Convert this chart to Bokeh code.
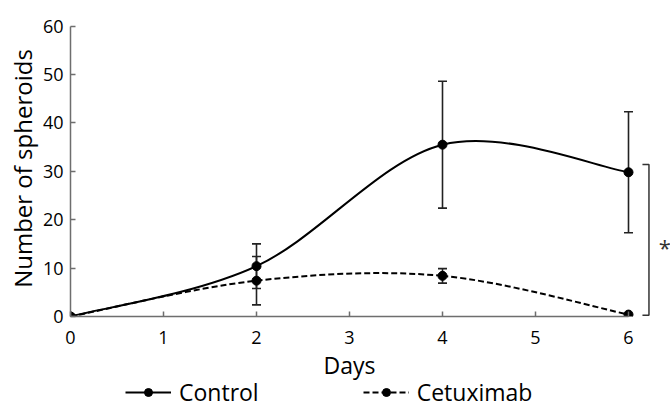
import numpy as np
from bokeh.plotting import figure
from bokeh.layouts import column
from bokeh.models import (Range1d, Whisker, TeeHead, ColumnDataSource, Legend,
                          LegendItem, FixedTicker, Label)
from bokeh.core.properties import value
from bokeh.embed import file_html
from bokeh.resources import INLINE

# ---------------- data ----------------
days = [0, 2, 4, 6]
control = [0.0, 10.4, 35.5, 29.8]
control_err = [0.0, 4.6, 13.1, 12.5]
cetuximab = [0.0, 7.4, 8.4, 0.4]
cetuximab_err = [0.0, 5.0, 1.5, 0.0]
series_names = ["Control", "Cetuximab"]
x_ticks = [0, 1, 2, 3, 4, 5, 6]
y_ticks = [0, 10, 20, 30, 40, 50, 60]
x_label = "Days"
y_label = "Number of spheroids"
sig_label = "*"

FONT = "Open Sans"


def smooth_segments(xs, ys):
    """Catmull-Rom style cubic Bezier control points (spreadsheet 'smoothed line')."""
    P = np.column_stack([xs, ys]).astype(float)
    ext = np.vstack([P[0], P, P[-1]])
    out = dict(x0=[], y0=[], x1=[], y1=[], cx0=[], cy0=[], cx1=[], cy1=[])
    for i in range(len(P) - 1):
        p0, p1, p2, p3 = ext[i], ext[i + 1], ext[i + 2], ext[i + 3]
        c0 = p1 + (p2 - p0) / 6.0
        c1 = p2 - (p3 - p1) / 6.0
        out["x0"].append(float(p1[0])); out["y0"].append(float(p1[1]))
        out["x1"].append(float(p2[0])); out["y1"].append(float(p2[1]))
        out["cx0"].append(float(c0[0])); out["cy0"].append(float(c0[1]))
        out["cx1"].append(float(c1[0])); out["cy1"].append(float(c1[1]))
    return ColumnDataSource(out)


x_range = Range1d(0, 6.4516)
p = figure(width=670, height=355, output_backend="svg", toolbar_location=None,
           x_range=x_range, y_range=Range1d(0, 61.16),
           min_border_left=70, min_border_right=0, min_border_top=20,
           min_border_bottom=39)
p.outline_line_color = None
p.xgrid.visible = False
p.ygrid.visible = False

axis_color = "#6e6e6e"
for ax in (p.xaxis[0], p.yaxis[0]):
    ax.axis_line_color = axis_color
    ax.axis_line_width = 1.5
    ax.major_tick_line_color = axis_color
    ax.major_tick_line_width = 1.5
    ax.major_tick_in = 5
    ax.major_tick_out = 0
    ax.minor_tick_line_color = None
    ax.major_label_text_font = FONT
    ax.major_label_text_font_size = "18px"
    ax.major_label_text_color = "black"
    ax.axis_label_text_font = FONT
    ax.axis_label_text_font_size = "24px"
    ax.axis_label_text_font_style = "normal"
    ax.axis_label_text_color = "black"

p.xaxis[0].ticker = FixedTicker(ticks=x_ticks)
p.yaxis[0].ticker = FixedTicker(ticks=y_ticks)
p.xaxis[0].bounds = (x_ticks[0], x_ticks[-1])
p.yaxis[0].bounds = (y_ticks[0], y_ticks[-1])
p.yaxis[0].axis_label = y_label
p.xaxis[0].major_label_standoff = 14
p.yaxis[0].major_label_standoff = 7
p.yaxis[0].axis_label_standoff = 1

# ---------------- series ----------------
styles = [("solid", control, control_err), ("6 3", cetuximab, cetuximab_err)]
for dash, vals, errs in styles:
    seg = smooth_segments(days, vals)
    p.bezier(x0="x0", y0="y0", x1="x1", y1="y1", cx0="cx0", cy0="cy0",
             cx1="cx1", cy1="cy1", source=seg, line_color="black",
             line_width=2, line_dash=dash)
    idx = [i for i, e in enumerate(errs) if e > 0]
    esrc = ColumnDataSource(dict(
        x=[days[i] for i in idx],
        upper=[vals[i] + errs[i] for i in idx],
        lower=[vals[i] - errs[i] for i in idx]))
    p.add_layout(Whisker(source=esrc, base="x", upper="upper", lower="lower",
                         line_color="#222222", line_width=1.6,
                         upper_head=TeeHead(size=9, line_color="#222222", line_width=1.6),
                         lower_head=TeeHead(size=9, line_color="#222222", line_width=1.6)))
    p.scatter(days, vals, size=9, fill_color="black", line_color="black")

# ---------------- significance bracket ----------------
br_x = days[-1] + 0.22
br_tick = days[-1] + 0.15
br_top = control[-1] + 1.6
br_bot = 0.25
p.line([br_tick, br_x, br_x, br_tick], [br_top, br_top, br_bot, br_bot],
       line_color="#333333", line_width=1.5)
p.text([days[-1] + 0.39], [(br_top + br_bot) / 2 - 1.5], text=[sig_label],
       text_font=value(FONT), text_font_size="22px", text_align="center",
       text_baseline="middle", text_color="#333333")

# ---------------- x title + legend strip ----------------
lg = figure(width=670, height=53, output_backend="svg", toolbar_location=None,
            x_axis_location=None, y_axis_location=None, min_border=0,
            x_range=x_range, y_range=Range1d(0, 53))
lg.outline_line_color = None
lg.xgrid.visible = False
lg.ygrid.visible = False
lg.add_layout(Label(x=(x_ticks[0] + x_ticks[-1]) / 2, y=44, text=x_label,
                    text_font=FONT, text_font_size="23px", text_align="center",
                    text_baseline="alphabetic", text_color="black"))
items = []
for name, (dash, vals, errs) in zip(series_names, styles):
    l = lg.line([days[0]], [vals[0]], line_color="black", line_width=2,
                line_dash=dash, visible=False)
    s = lg.scatter([days[0]], [vals[0]], size=9, fill_color="black",
                   line_color="black", visible=False)
    items.append(LegendItem(label=name, renderers=[l, s]))
legend = Legend(items=items, orientation="horizontal", location=(55, 0),
                glyph_width=46, glyph_height=20, label_standoff=8, spacing=104,
                label_text_font=FONT, label_text_font_size="23px",
                label_text_color="black", inactive_fill_alpha=0,
                border_line_color=None, background_fill_alpha=0,
                padding=0, margin=0)
lg.add_layout(legend, "center")

layout = column(p, lg, spacing=0)
open("out.html", "w").write(file_html(layout, INLINE))
